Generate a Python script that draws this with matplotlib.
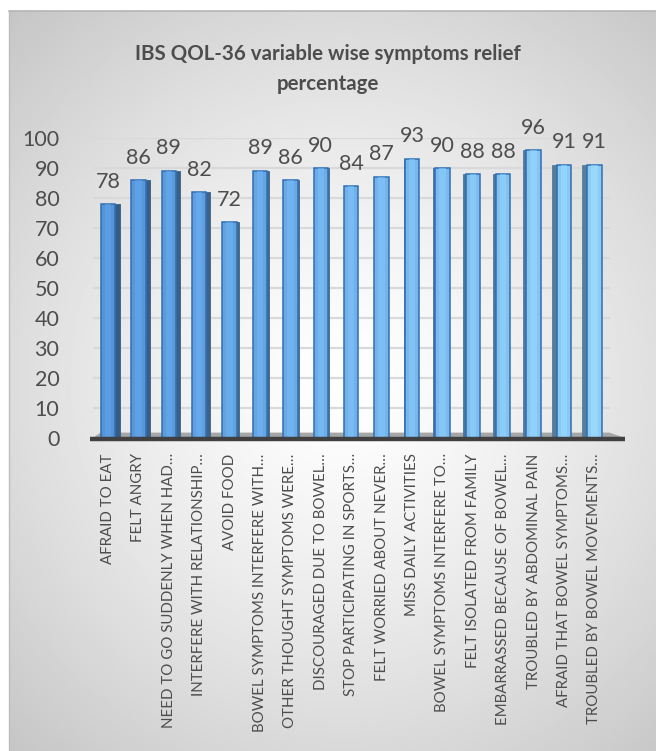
import matplotlib
matplotlib.use('Agg')
import matplotlib.pyplot as plt
import numpy as np
from matplotlib.colors import to_rgb
from matplotlib.patches import Polygon

# data
categories = [
    "AFRAID TO EAT",
    "FELT ANGRY",
    "NEED TO GO SUDDENLY WHEN HAD…",
    "INTERFERE WITH RELATIONSHIP…",
    "AVOID FOOD",
    "BOWEL SYMPTOMS INTERFERE WITH…",
    "OTHER THOUGHT SYMPTOMS WERE…",
    "DISCOURAGED DUE TO BOWEL…",
    "STOP PARTICIPATING IN SPORTS…",
    "FELT WORRIED ABOUT NEVER…",
    "MISS DAILY ACTIVITIES",
    "BOWEL SYMPTOMS INTERFERE TO…",
    "FELT ISOLATED FROM FAMILY",
    "EMBARRASSED BECAUSE OF BOWEL…",
    "TROUBLED BY ABDOMINAL PAIN",
    "AFRAID THAT BOWEL SYMPTOMS…",
    "TROUBLED BY BOWEL MOVEMENTS…",
]
relief = [78, 86, 89, 82, 72, 89, 86, 90, 84, 87, 93, 90, 88, 88, 96, 91, 91]

title = "IBS QOL-36 variable wise symptoms relief\npercentage"
txt = "#4d4d4d"
plt.rcParams['font.family'] = ['Lato', 'DejaVu Sans']

W, H = 656, 751
fig = plt.figure(figsize=(W / 100, H / 100), dpi=100)
fig.patch.set_facecolor('white')

# chart area background with a radial grey gradient
bx0 = 9 / W
bh = (H - 11) / H
bg = fig.add_axes([bx0, 0, 1 - bx0, bh])
gx, gy = np.meshgrid(np.linspace(0, 1, 300), np.linspace(0, 1, 300))
d = np.sqrt(((gx - 0.52) / 0.8) ** 2 + ((gy - 0.5) / 0.72) ** 2)
d = np.clip(d, 0, 1)
shade = 1.0 - 0.24 * d ** 1.3
bg.imshow(shade, cmap='gray', vmin=0, vmax=1, extent=[0, 1, 0, 1],
          aspect='auto', origin='lower')
bg.set_xlim(0, 1)
bg.set_ylim(0, 1)
bg.axis('off')
fig.add_artist(plt.Line2D([bx0, 1], [bh, bh], color='#b5b5b5', lw=1.2))
fig.add_artist(plt.Line2D([bx0, bx0], [0, bh], color='#bdbdbd', lw=1.0))

ax = fig.add_axes([92.8 / W, 313 / H, 516.8 / W, 300 / H])
ax.set_facecolor('none')
n = len(relief)
x = np.arange(n)

ax.set_xlim(-0.5, n - 0.5)
ax.set_ylim(0, 100)
ax.set_yticks(np.arange(0, 101, 10))
ax.yaxis.grid(True, color='#d9d9d9', lw=1.6, zorder=0)
ax.set_axisbelow(True)
for s in ax.spines.values():
    s.set_visible(False)

# floor of the 3d plot
floor = Polygon([[0.0, 0.0], [1.03, 0.0], [1.0, 0.018], [0.015, 0.018]],
                closed=True, transform=ax.transAxes, facecolor='#a6a6a6',
                edgecolor='none', clip_on=False, zorder=1)
ax.add_patch(floor)
ax.plot([-0.005, 1.03], [-0.004, -0.004], transform=ax.transAxes,
        color='#404040', lw=3.2, clip_on=False, solid_capstyle='butt', zorder=5)

# bar colours: darker blue on the left, lighter blue on the right
c_left = np.array(to_rgb('#5594d6'))
c_right = np.array(to_rgb('#8ecbf7'))
t = x / (n - 1)
faces = [tuple(c_left + (c_right - c_left) * k) for k in t]
sides = [tuple(np.array(f) * 0.62) for f in faces]
highs = [tuple(np.clip(np.array(f) * 1.12, 0, 1)) for f in faces]

face_w = 0.47
side_w = 0.17
shift = (8 - x) / 8.0  # side visible on the right for left bars, left for right bars
for i in range(n):
    sw = side_w * abs(shift[i])
    if sw > 0.01:
        sx = x[i] + np.sign(shift[i]) * (face_w / 2 + sw / 2)
        ax.bar(sx, relief[i], width=sw, color=sides[i], edgecolor=sides[i],
               lw=0.6, zorder=3)
ax.bar(x, relief, width=face_w, color=faces, edgecolor='#2e6fb5', lw=1.1, zorder=4)
ax.bar(x, relief, width=face_w * 0.45, color=highs, edgecolor='none', zorder=4,
       alpha=0.55)

for xi, v in zip(x, relief):
    ax.annotate(str(v), (xi, v), xytext=(0, 9), textcoords='offset points',
                ha='center', va='bottom', fontsize=15.5, color=txt)

ax.set_xticks(x)
ax.set_xticklabels(categories, rotation=90, ha='center', va='top',
                   fontsize=10.8, color=txt)
ax.tick_params(axis='x', length=0, pad=11)
ax.tick_params(axis='y', length=0, pad=24, labelsize=15.5, labelcolor=txt)

fig.text(0.5, 0.942, title, ha='center', va='top', fontsize=14.8,
         fontweight='bold', color=txt, linespacing=1.65)

fig.savefig('out.png', dpi=100, facecolor='white')
